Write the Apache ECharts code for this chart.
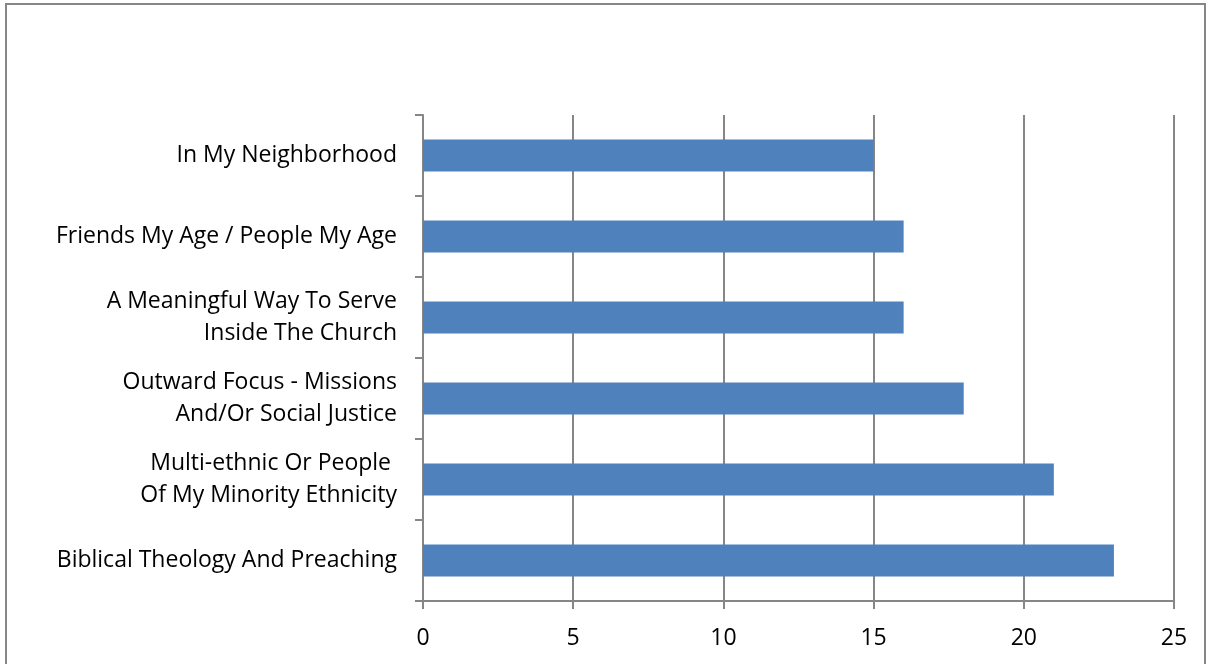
<!DOCTYPE html>
<html>
<head>
<meta charset="utf-8">
<script src="https://cdn.jsdelivr.net/npm/echarts@6/dist/echarts.min.js"></script>
<style>
  html, body { margin: 0; padding: 0; background: #fff; }
  #chart { width: 1208px; height: 664px; }
</style>
</head>
<body>
<div id="chart"></div>
<script>
// categories listed bottom to top (category axis starts at the bottom)
var categories = [
    'Biblical Theology And Preaching',
    'Multi-ethnic Or People \nOf My Minority Ethnicity',
    'Outward Focus - Missions\nAnd/Or Social Justice',
    'A Meaningful Way To Serve\nInside The Church',
    'Friends My Age / People My Age',
    'In My Neighborhood'
];
var counts = [23, 21, 18, 16, 16, 15];
var xTicks = [0, 5, 10, 15, 20, 25];

var dom = document.getElementById('chart');
var myChart = echarts.init(dom, null, { renderer: 'canvas' });
var gray = '#868686';
var fontFam = '"Open Sans", "Noto Sans", sans-serif';

var option = {
    backgroundColor: '#fff',
    animation: false,
    graphic: [
        {
            type: 'rect',
            shape: { x: 6, y: 4, width: 1199, height: 700 },
            style: { fill: 'none', stroke: gray, lineWidth: 2 },
            silent: true
        }
    ],
    grid: {
        left: 423,
        right: 34,
        top: 115,
        bottom: 63
    },
    xAxis: {
        type: 'value',
        min: xTicks[0],
        max: xTicks[xTicks.length - 1],
        interval: 5,
        axisLine: { show: true, lineStyle: { color: gray, width: 2 } },
        axisTick: { show: true, length: 8, lineStyle: { color: gray, width: 2 } },
        splitLine: { show: true, lineStyle: { color: gray, width: 2 } },
        axisLabel: {
            color: '#000',
            fontSize: 23,
            fontFamily: fontFam,
            margin: 26
        }
    },
    yAxis: {
        type: 'category',
        data: categories,
        axisLine: { show: true, lineStyle: { color: gray, width: 2 } },
        axisTick: { show: true, length: 8, lineStyle: { color: gray, width: 2 } },
        axisLabel: {
            color: '#000',
            fontSize: 23,
            fontFamily: fontFam,
            margin: 26,
            lineHeight: 32,
            align: 'right'
        }
    },
    series: [
        {
            type: 'bar',
            data: counts,
            barWidth: 32,
            itemStyle: { color: '#4f81bd' }
        }
    ]
};

myChart.setOption(option);
</script>
</body>
</html>
